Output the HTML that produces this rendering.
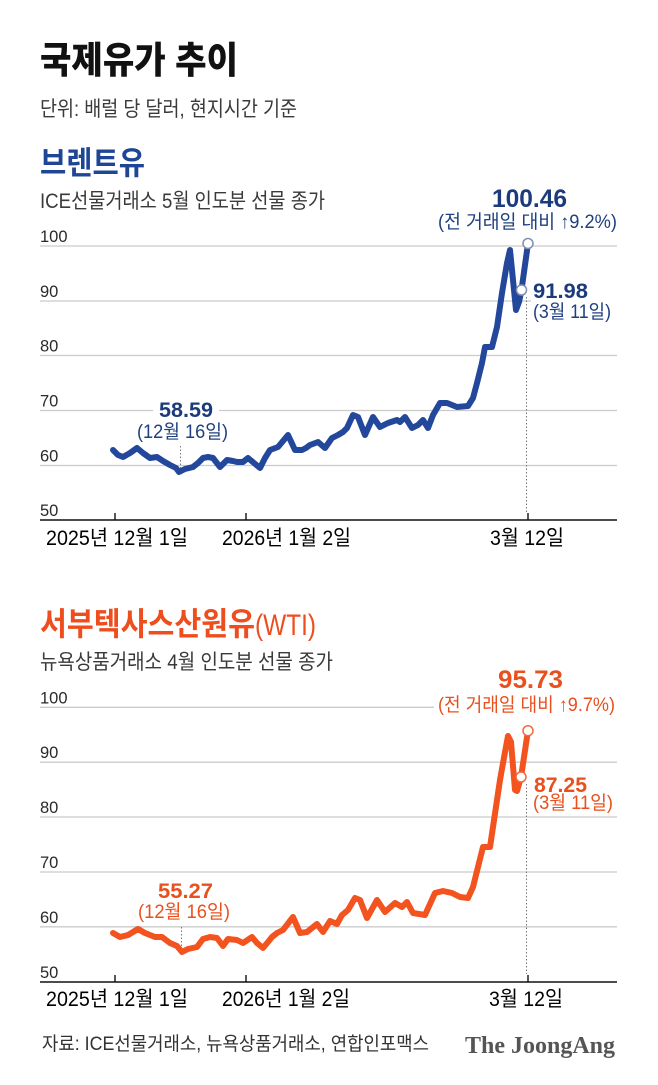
<!DOCTYPE html>
<html>
<head>
<meta charset="utf-8">
<style>
html,body{margin:0;padding:0;background:#fff;}
svg{display:block;}
text{font-family:"Liberation Sans","Noto Sans CJK KR",sans-serif;}
</style>
</head>
<body>
<svg width="658" height="1085" viewBox="0 0 658 1085" xmlns="http://www.w3.org/2000/svg">
<rect width="658" height="1085" fill="#fff"/>

<!-- Header -->
<text x="40" y="73" font-size="37" font-weight="900" fill="#111" textLength="198" lengthAdjust="spacingAndGlyphs">국제유가 추이</text>
<text x="40" y="116" font-size="21" fill="#3a3a3a" textLength="257" lengthAdjust="spacingAndGlyphs">단위: 배럴 당 달러, 현지시간 기준</text>

<!-- ===== Brent ===== -->
<text x="40" y="174" font-size="32" font-weight="bold" fill="#1f4596" textLength="105" lengthAdjust="spacingAndGlyphs">브렌트유</text>
<text x="40" y="208" font-size="21" fill="#3a3a3a" textLength="285" lengthAdjust="spacingAndGlyphs">ICE선물거래소 5월 인도분 선물 종가</text>

<g stroke="#cbcbcb" stroke-width="1.3">
<line x1="40" y1="246" x2="617" y2="246"/>
<line x1="40" y1="301" x2="617" y2="301"/>
<line x1="40" y1="355.5" x2="617" y2="355.5"/>
<line x1="40" y1="410.5" x2="617" y2="410.5"/>
<line x1="40" y1="465.5" x2="617" y2="465.5"/>
</g>
<line x1="40" y1="520" x2="617" y2="520" stroke="#111" stroke-width="1.6"/>
<g stroke="#111" stroke-width="1.4">
<line x1="115" y1="513" x2="115" y2="520"/>
<line x1="246" y1="513" x2="246" y2="520"/>
<line x1="528" y1="513" x2="528" y2="520"/>
</g>
<g font-size="16.5" fill="#2a2a2a">
<text x="40" y="242">100</text>
<text x="40" y="297">90</text>
<text x="40" y="351.5">80</text>
<text x="40" y="406.5">70</text>
<text x="40" y="461.5">60</text>
<text x="40" y="516">50</text>
</g>

<!-- masks for labels -->
<rect x="153" y="399" width="66" height="21" fill="#fff"/>
<rect x="531" y="298" width="86" height="26" fill="#fff"/>

<g stroke="#777" stroke-width="1" stroke-dasharray="1.5,2">
<line x1="180.5" y1="446" x2="180.5" y2="468"/>
<line x1="526.5" y1="297" x2="526.5" y2="512"/>
</g>

<polyline fill="none" stroke="#23479b" stroke-width="6" stroke-linejoin="round" stroke-linecap="round"
points="113,450 118,455 123,457 130,453 137,448 143,453 150,458 157,457 163,461 170,465 176,468 179,472 185,469 193,467 198,463 203,458 208,457 213,458 220,467 227,460 233,461 237,462 243,462 248,458 254,463 260,468 265,458 270,450 278,447 283,441 288,435 295,450 302,450 306,448 310,445 318,442 325,448 332,438 338,435 343,432 347,428 353,415 358,417 365,435 373,417 380,427 388,423 397,420 400,422 405,417 412,428 418,425 423,420 428,428 433,415 440,403 447,403 457,407 468,406 473,398 477,383 482,363 485,347 492,347 497,327 502,293 507,263 510,250 513,280 516,310 519,302 521.5,290 528,243.5"/>
<circle cx="521.5" cy="290" r="5" fill="#fff" stroke="#8090b0" stroke-width="1.5"/>
<circle cx="528" cy="243.5" r="5" fill="#fff" stroke="#8090b0" stroke-width="1.5"/>

<text x="492" y="207" font-size="25" font-weight="bold" fill="#1c3b7c" textLength="75" lengthAdjust="spacingAndGlyphs">100.46</text>
<text x="438" y="228" font-size="19" fill="#1f3f80" textLength="179" lengthAdjust="spacingAndGlyphs">(전 거래일 대비 ↑9.2%)</text>
<text x="533" y="298" font-size="21" font-weight="bold" fill="#1c3b7c" textLength="55" lengthAdjust="spacingAndGlyphs">91.98</text>
<text x="533" y="318" font-size="19" fill="#1f3f80" textLength="78" lengthAdjust="spacingAndGlyphs">(3월 11일)</text>
<text x="159" y="417" font-size="21" font-weight="bold" fill="#1c3b7c" textLength="54" lengthAdjust="spacingAndGlyphs">58.59</text>
<text x="137" y="438" font-size="19" fill="#1f3f80" textLength="91" lengthAdjust="spacingAndGlyphs">(12월 16일)</text>

<g font-size="21" fill="#000">
<text x="46" y="545" textLength="142" lengthAdjust="spacingAndGlyphs">2025년 12월 1일</text>
<text x="222" y="545" textLength="129" lengthAdjust="spacingAndGlyphs">2026년 1월 2일</text>
<text x="490" y="545" textLength="74" lengthAdjust="spacingAndGlyphs">3월 12일</text>
</g>

<!-- ===== WTI ===== -->
<text x="40" y="635" font-size="32" font-weight="bold" fill="#ee4d1d" textLength="215" lengthAdjust="spacingAndGlyphs">서부텍사스산원유</text>
<text x="255" y="635" font-size="30" fill="#ee4d1d" textLength="61" lengthAdjust="spacingAndGlyphs">(WTI)</text>
<text x="40" y="669" font-size="21" fill="#3a3a3a" textLength="293" lengthAdjust="spacingAndGlyphs">뉴욕상품거래소 4월 인도분 선물 종가</text>

<g stroke="#cbcbcb" stroke-width="1.3">
<line x1="40" y1="707.3" x2="617" y2="707.3"/>
<line x1="40" y1="762.2" x2="617" y2="762.2"/>
<line x1="40" y1="817" x2="617" y2="817"/>
<line x1="40" y1="872" x2="617" y2="872"/>
<line x1="40" y1="926.8" x2="617" y2="926.8"/>
</g>
<line x1="40" y1="982" x2="617" y2="982" stroke="#111" stroke-width="1.6"/>
<g stroke="#111" stroke-width="1.4">
<line x1="115" y1="975" x2="115" y2="982"/>
<line x1="246" y1="975" x2="246" y2="982"/>
<line x1="528" y1="975" x2="528" y2="982"/>
</g>
<g font-size="16.5" fill="#2a2a2a">
<text x="40" y="703.3">100</text>
<text x="40" y="758.2">90</text>
<text x="40" y="813">80</text>
<text x="40" y="868">70</text>
<text x="40" y="922.8">60</text>
<text x="40" y="978">50</text>
</g>

<rect x="434" y="694" width="186" height="23" fill="#fff"/>

<g stroke="#777" stroke-width="1" stroke-dasharray="1.5,2">
<line x1="181.5" y1="927" x2="181.5" y2="950"/>
<line x1="526.5" y1="784" x2="526.5" y2="974"/>
</g>

<polyline fill="none" stroke="#f2531f" stroke-width="6" stroke-linejoin="round" stroke-linecap="round"
points="113,933 120,937 128,935 138,929 145,933 155,937 162,937 170,943 177,946 182,952 188,949 197,947 203,939 210,937 217,938 223,946 228,939 237,940 243,943 252,937 257,943 263,948 268,942 272,937 277,933 283,930 293,917 300,933 307,932 317,924 323,932 330,921 337,924 342,915 348,910 355,898 360,900 367,918 377,900 385,912 395,903 402,907 407,902 413,913 425,915 435,893 443,891 452,893 460,897 468,898 473,887 483,847 490,847 500,780 505,752 508,736 511,742 515,790 517,791 521,777 528,730.7"/>
<circle cx="521" cy="777" r="5" fill="#fff" stroke="#f06a3a" stroke-width="1.5"/>
<circle cx="528" cy="730.7" r="5" fill="#fff" stroke="#f06a3a" stroke-width="1.5"/>

<text x="498" y="688" font-size="25" font-weight="bold" fill="#e8501e" textLength="65" lengthAdjust="spacingAndGlyphs">95.73</text>
<text x="438" y="711" font-size="19" fill="#e8501e" textLength="177" lengthAdjust="spacingAndGlyphs">(전 거래일 대비 ↑9.7%)</text>
<text x="534" y="792" font-size="21" font-weight="bold" fill="#e8501e" textLength="53" lengthAdjust="spacingAndGlyphs">87.25</text>
<text x="533" y="809" font-size="19" fill="#e8501e" textLength="80" lengthAdjust="spacingAndGlyphs">(3월 11일)</text>
<text x="158" y="898" font-size="21" font-weight="bold" fill="#e8501e" textLength="55" lengthAdjust="spacingAndGlyphs">55.27</text>
<text x="138" y="918" font-size="19" fill="#e8501e" textLength="92" lengthAdjust="spacingAndGlyphs">(12월 16일)</text>

<g font-size="21" fill="#000">
<text x="46" y="1006" textLength="142" lengthAdjust="spacingAndGlyphs">2025년 12월 1일</text>
<text x="222" y="1006" textLength="128" lengthAdjust="spacingAndGlyphs">2026년 1월 2일</text>
<text x="489" y="1006" textLength="74" lengthAdjust="spacingAndGlyphs">3월 12일</text>
</g>

<!-- Footer -->
<text x="42" y="1050" font-size="19" fill="#333" textLength="387" lengthAdjust="spacingAndGlyphs">자료: ICE선물거래소, 뉴욕상품거래소, 연합인포맥스</text>
<text x="465" y="1053" font-size="24" font-weight="bold" fill="#555" style="font-family:'Liberation Serif',serif" textLength="150" lengthAdjust="spacingAndGlyphs">The JoongAng</text>
</svg>
</body>
</html>
